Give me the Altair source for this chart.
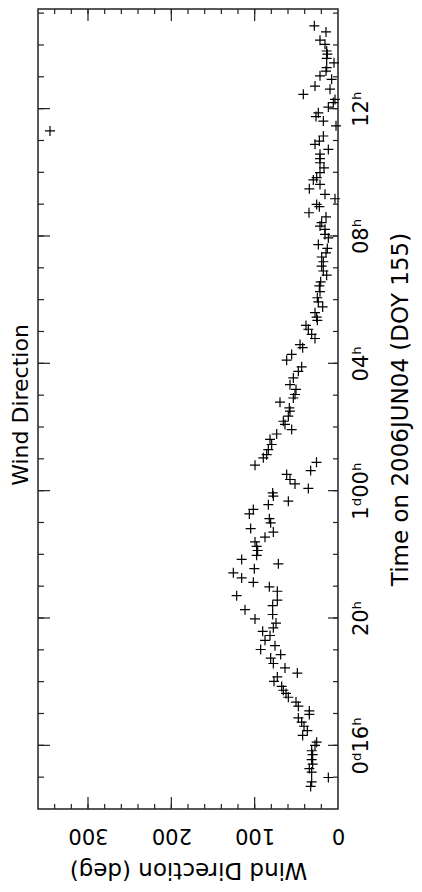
import altair as alt
import pandas as pd

# ---- data (hours since 0d00h on 2006JUN04, wind direction in degrees) ----
time_h = [38.60, 38.41, 38.15, 38.02, 37.81, 37.71, 37.58, 37.44, 37.29, 37.18,
          37.03, 36.92, 36.71, 36.61, 36.45, 36.29, 36.19, 36.05, 35.87, 35.75,
          35.61, 35.46, 35.14, 34.98, 34.88, 34.72, 34.57, 34.43, 34.30, 34.14,
          33.99, 33.83, 33.76, 33.62, 33.48, 33.31, 33.17, 32.99, 32.92, 32.73,
          32.60, 32.42, 32.31, 32.21, 32.05, 31.94, 31.73, 31.61, 31.47, 31.34,
          31.19, 31.05, 30.90, 30.77, 30.56, 30.43, 30.25, 30.06, 29.93, 29.77,
          29.59, 29.45, 29.35, 29.19, 29.07, 28.91, 28.78, 28.59, 28.49, 28.28,
          28.10, 27.89, 27.75, 27.54, 27.33, 27.18, 27.02, 26.91, 26.78, 26.60,
          26.50, 26.34, 26.18, 26.08, 25.92, 25.78, 25.61, 25.45, 25.29, 25.13,
          25.03, 24.80, 24.89, 24.63, 24.51, 24.35, 24.21, 24.07, 23.93, 23.83,
          23.67, 23.56, 23.41, 23.27, 23.12, 22.99, 22.81, 22.70, 22.54, 22.39,
          22.25, 22.12, 21.97, 21.84, 21.70, 21.55, 21.42, 21.26, 21.12, 20.98,
          20.84, 20.70, 20.56, 20.39, 20.26, 20.11, 19.97, 19.84, 19.69, 19.58,
          19.45, 19.30, 19.13, 19.01, 18.85, 18.74, 18.57, 18.43, 18.27, 18.15,
          18.01, 17.85, 17.73, 17.63, 17.51, 17.36, 17.23, 17.08, 16.97, 16.86,
          16.73, 16.60, 16.46, 16.31, 16.10, 16.00, 15.83, 15.71, 15.55, 15.41,
          15.27, 15.16, 14.99, 14.85, 14.71, 35.30]

wind_deg = [28.4, 14.4, 21.6, 15.6, 13.6, 12.8, 13.6, 4.8, 13.6, 14.4,
            21.6, 7.6, 27.6, 9.6, 41.6, 3.6, 5.6, 11.6, 23.6, 26.4,
            17.6, 2.4, 17.6, 22.4, 27.6, 11.6, 21.6, 21.6, 21.6, 16.8,
            21.6, 25.6, 29.6, 21.6, 34.4, 15.6, 3.6, 25.6, 22.4, 34.8,
            14.4, 19.6, 21.6, 15.6, 15.6, 11.6, 23.6, 12.8, 14.4, 19.6,
            17.6, 19.6, 17.6, 13.6, 20.8, 22.4, 21.6, 24.8, 23.6, 18.4,
            27.6, 25.6, 24.8, 38.4, 35.6, 31.6, 27.6, 45.6, 42.4, 55.6,
            61.6, 43.6, 47.6, 53.6, 57.6, 50.4, 51.6, 53.6, 69.6, 58.4,
            57.6, 59.6, 65.6, 63.6, 55.6, 73.6, 81.6, 79.6, 83.6, 85.6,
            89.6, 99.6, 25.8, 32.8, 61.6, 57.6, 51.6, 35.6, 78.4, 77.6,
            59.6, 83.6, 101.6, 106.4, 82.4, 80.8, 104.8, 77.6, 87.6, 99.6,
            97.6, 96.4, 97.6, 115.6, 71.6, 100.4, 125.6, 115.6, 101.6, 82.4,
            72.8, 121.6, 72.8, 78.4, 111.6, 78.4, 99.6, 74.4, 77.6, 90.4,
            81.6, 87.6, 75.6, 92.8, 68.8, 80.8, 77.6, 63.6, 48.8, 72.8,
            76.8, 67.6, 65.6, 62.4, 59.6, 50.4, 47.6, 34.4, 34.4, 47.6,
            43.6, 40.8, 36.8, 42.4, 25.6, 27.6, 31.6, 30.4, 31.6, 30.4,
            34.4, 31.6, 11.6, 31.6, 32.8, 345.6]

# axis ticks and labels
hour_minor = list(range(15, 40))
hour_major = [16, 20, 24, 28, 32, 36]
hour_labels = ["0\u1d48" + "16\u02b0\u00a0\u00a0", "20\u02b0", "1\u1d48" + "00\u02b0",
               "04\u02b0", "08\u02b0", "12\u02b0"]
deg_minor = list(range(20, 360, 20))
deg_major = [100, 200, 300]
deg_label_values = [0, 100, 200, 300]

title_text = "Wind Direction"
x_title = "Wind Direction (deg)"
y_title = "Time on 2006JUN04 (DOY 155)"

# ---- chart ----
W, H = 300, 800
FONT = "DejaVu Sans"
INK = "#222222"
xs = alt.Scale(domain=[0, 360], reverse=True, nice=False, zero=False)
ys = alt.Scale(domain=[14, 39.13], nice=False, zero=False)

df = pd.DataFrame({"t": time_h, "w": wind_deg})

label_expr = " : ".join(f"datum.value == {v} ? '{s}'" for v, s in zip(hour_major, hour_labels)) + " : ''"

x_axis = alt.Axis(
    orient="bottom", values=deg_label_values, labelAngle=180,
    labelAlign="center", labelBaseline="alphabetic", labelPadding=19,
    ticks=False, tickSize=0, domain=False, grid=False,
    labelFont=FONT, labelFontSize=21, labelColor="black",
    title=x_title, titleAngle=180, titleBaseline="alphabetic", titleAlign="center",
    titleX=W / 2, titleY=53, titleFont=FONT, titleFontSize=23,
    titleFontWeight="normal", titleColor="black")
y_axis = alt.Axis(
    orient="right", values=hour_major, labelExpr=label_expr, labelAngle=270,
    labelAlign="center", labelBaseline="top", labelPadding=12,
    ticks=False, tickSize=0, domain=False, grid=False,
    labelFont=FONT, labelFontSize=21, labelColor="black",
    title=y_title, titleAngle=270, titleBaseline="alphabetic", titleAlign="center",
    titleX=69, titleY=H / 2, titleFont=FONT, titleFontSize=23,
    titleFontWeight="normal", titleColor="black")

points = alt.Chart(df).mark_point(
    shape="M-1,0H1M0,-1V1", filled=False, size=100, strokeWidth=1.2,
    color="black", opacity=1
).encode(
    x=alt.X("w:Q", scale=xs, axis=x_axis),
    y=alt.Y("t:Q", scale=ys, axis=y_axis),
)


def hour_ticks(vals, length, side):
    d = pd.DataFrame({"t": vals})
    x1, x2 = (0, length) if side == "left" else (W, W - length)
    return alt.Chart(d).mark_rule(color=INK, strokeWidth=1.2).encode(
        y=alt.Y("t:Q", scale=ys, axis=y_axis), x=alt.value(x1), x2=alt.value(x2))


def deg_ticks(vals, length, side):
    d = pd.DataFrame({"w": vals})
    y1, y2 = (0, length) if side == "top" else (H, H - length)
    return alt.Chart(d).mark_rule(color=INK, strokeWidth=1.2).encode(
        x=alt.X("w:Q", scale=xs, axis=x_axis), y=alt.value(y1), y2=alt.value(y2))


# plot title, drawn rotated along the left side of the frame
title_layer = alt.Chart(pd.DataFrame({"label": [title_text]})).mark_text(
    angle=270, align="center", baseline="alphabetic", font=FONT, fontSize=22,
    color="black"
).encode(text="label:N", x=alt.value(-10), y=alt.value(H / 2 - 4))

layers = [
    points,
    hour_ticks(hour_minor, 6, "left"), hour_ticks(hour_major, 12, "left"),
    hour_ticks(hour_minor, 5, "right"), hour_ticks(hour_major, 10, "right"),
    deg_ticks(deg_minor, 5, "top"), deg_ticks(deg_major, 12, "top"),
    deg_ticks(deg_minor, 5, "bottom"), deg_ticks(deg_major, 12, "bottom"),
    title_layer,
]

chart = alt.layer(*layers).properties(
    width=W, height=H,
    autosize=alt.AutoSizeParams(type="none"),
    padding={"left": 30, "top": 1, "right": 76, "bottom": 74},
    background="white",
).configure_view(stroke=INK, strokeWidth=1.5)

chart.save("out.html", embed_options={"renderer": "svg", "actions": False})
